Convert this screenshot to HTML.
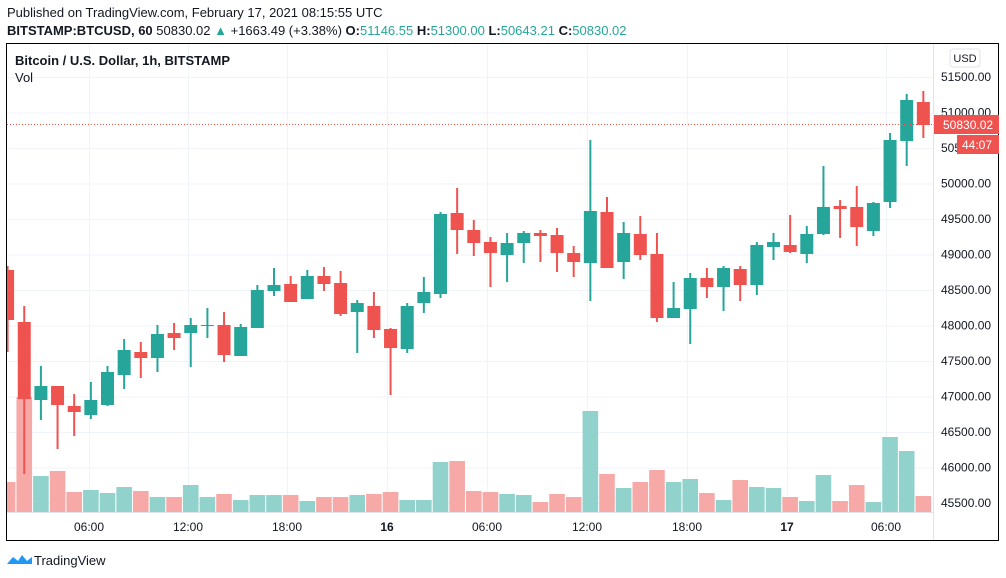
<!DOCTYPE html>
<html><head><meta charset="utf-8"><style>
body{margin:0;width:1006px;height:578px;background:#fff;overflow:hidden;font-family:"Liberation Sans",sans-serif;}
svg{position:absolute;left:0;top:0}
</style></head><body>
<svg id="s" width="1006" height="578" xmlns="http://www.w3.org/2000/svg" font-family="Liberation Sans, sans-serif">
<text x="7" y="17" font-size="13" fill="#131722">Published on TradingView.com, February 17, 2021 08:15:55 UTC</text>
<text x="7" y="35" font-size="13" fill="#131722"><tspan font-weight="bold">BITSTAMP:BTCUSD, 60</tspan> 50830.02 <tspan fill="#26a69a">▲</tspan> +1663.49 (+3.38%) <tspan font-weight="bold">O:</tspan><tspan fill="#26a69a">51146.55</tspan> <tspan font-weight="bold">H:</tspan><tspan fill="#26a69a">51300.00</tspan> <tspan font-weight="bold">L:</tspan><tspan fill="#26a69a">50643.21</tspan> <tspan font-weight="bold">C:</tspan><tspan fill="#26a69a">50830.02</tspan></text>
<g id="grid" stroke="#f0f3fa" stroke-width="1"></g>
<g id="vol"></g>
<g id="cdl"></g>
<line x1="7" y1="124.5" x2="933" y2="124.5" stroke="#ef5350" stroke-dasharray="1,2"/>
<line x1="7" y1="512.5" x2="933" y2="512.5" stroke="#e0e3eb"/>
<line x1="933.5" y1="44" x2="933.5" y2="541" stroke="#e0e3eb"/>
<rect x="6.5" y="43.5" width="992" height="497" fill="none" stroke="#000" stroke-width="1"/>
<text x="15" y="65" font-size="13" font-weight="bold" fill="#131722">Bitcoin / U.S. Dollar, 1h, BITSTAMP</text>
<text x="15" y="82" font-size="13" fill="#131722">Vol</text>
<g id="pax" font-size="12" fill="#131722"></g>
<rect x="950" y="49" width="30" height="18" rx="3" fill="#fff" stroke="#e0e3eb"/>
<text x="965" y="62" font-size="11" fill="#131722" text-anchor="middle">USD</text>
<rect x="934" y="115" width="65" height="19" fill="#ef5350"/>
<text x="943" y="129" font-size="12" fill="#fff">50830.02</text>
<rect x="957" y="135" width="42" height="19" fill="#ef5350"/>
<text x="962" y="149" font-size="12" fill="#fff">44:07</text>
<g id="tax" font-size="12" fill="#131722" text-anchor="middle"></g>
<g transform="translate(7,552)"><path d="M0 12 L6 5 L11 9 L15 3 L20 9 L25 5 L25 12 Z" fill="#2196f3"/></g>
<text x="34" y="565" font-size="13" fill="#131722">TradingView</text>
</svg>
<script>
var NS="http://www.w3.org/2000/svg";
function el(p,t,a,txt){var e=document.createElementNS(NS,t);for(var k in a)e.setAttribute(k,a[k]);if(txt)e.textContent=txt;document.getElementById(p).appendChild(e);}
for(var k=0;k<13;k++){var y=77+35.5*k;el("grid","line",{x1:7,x2:933,y1:y+.5,y2:y+.5});var p=51500-500*k;el("pax","text",{x:941,y:y+4},p.toFixed(2));}
var tx=[[89,"06:00"],[188,"12:00"],[287,"18:00"],[387,"16"],[487,"06:00"],[587,"12:00"],[687,"18:00"],[787,"17"],[886,"06:00"]];
tx.forEach(function(t){el("grid","line",{x1:t[0]+.5,x2:t[0]+.5,y1:44,y2:512});el("tax","text",{x:t[0],y:531,"font-weight":(t[1].length<3?"bold":"normal")},t[1]);});
var C=[["r",270,320,266,352],["r",322,399,306,474],["g",386,400,366,420],["r",386,405,386,449],["r",406,412,394,436],["g",400,415,382,419],["g",372,405,366,406],["g",350,375,339,389],["r",352,358,342,378],["g",334,358,325,372],["r",333,338,323,350],["g",325,333,318,367],["g",325,326,308,338],["r",325,355,312,362],["g",327,356,324,356],["g",290,328,285,328],["g",285,291,268,296],["r",284,302,276,302],["g",276,299,270,299],["r",276,284,267,291],["r",283,314,271,316],["g",303,312,300,353],["r",306,330,292,338],["r",329,348,328,395],["g",306,349,303,353],["g",292,303,277,313],["g",214,294,212,298],["r",213,230,188,254],["r",230,243,220,256],["r",242,253,237,287],["g",243,255,233,282],["g",233,243,231,263],["r",233,236,230,262],["r",235,253,228,272],["r",253,262,246,277],["g",211,263,140,301],["r",212,268,197,268],["g",233,262,222,279],["r",234,255,216,260],["r",254,318,233,322],["g",308,318,282,318],["g",278,309,273,344],["r",278,287,268,298],["g",268,287,266,311],["r",269,285,266,301],["g",245,285,242,295],["g",242,247,233,260],["r",245,252,215,253],["g",234,254,226,263],["g",207,234,166,235],["r",206,209,200,238],["r",207,227,186,246],["g",203,231,202,236],["g",140,202,133,208],["g",100,141,94,166],["r",102,125,91,138]];
var V=[482,397,476,471,492,490,493,487,491,497,497,485,497,494,500,495,495,495,501,497,497,495,494,492,500,500,462,461,491,492,494,495,502,494,497,411,474,488,482,470,482,479,493,500,480,487,488,497,501,475,501,485,502,437,451,496];
C.forEach(function(c,i){var x=7.6+i*16.65;var g=c[0]=="g";
 var vx=Math.max(7,x-7.8),vw=Math.min(x+7.8,933)-vx;el("vol","rect",{x:vx,y:V[i],width:vw,height:512-V[i],fill:g?"#92d2cc":"#f7a9a7"});
 var col=g?"#26a69a":"#ef5350";
 if(x>=7.5)el("cdl","rect",{x:x-1,y:c[3],width:2,height:c[4]-c[3],fill:col});
 var bx=Math.max(7,x-6.5);el("cdl","rect",{x:bx,y:c[1],width:x+6.5-bx,height:Math.max(1,c[2]-c[1]),fill:col});
});
</script>
</body></html>
